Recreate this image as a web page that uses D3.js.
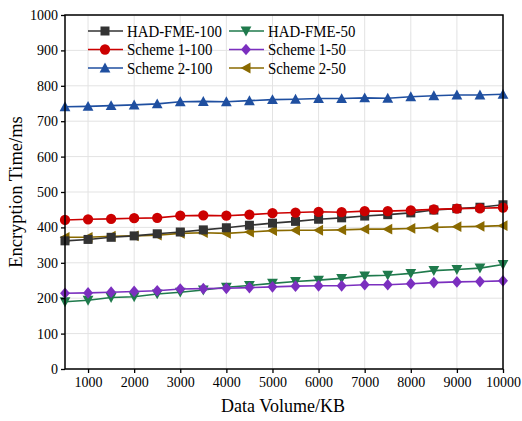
<!DOCTYPE html>
<html>
<head>
<meta charset="utf-8">
<script src="https://cdn.jsdelivr.net/npm/d3@7"></script>
<style>
  body { margin: 0; background: #fff; }
  text { font-family: "Liberation Serif", "Times New Roman", serif; }
</style>
</head>
<body>
<svg width="522" height="421"></svg>
<script>
// data volume in KB
var sizes = [500,1000,1500,2000,2500,3000,3500,4000,4500,5000,5500,6000,6500,7000,7500,8000,8500,9000,9500,10000];

var hadFme100 = [362,366,372,376,382,387,393,399,406,412,417,423,427,432,436,441,449,453,457,464];
var scheme1_100 = [421,423,424,426,427,433,434,433,436,440,442,444,443,446,446,448,451,453,454,456];
var scheme2_100 = [741,742,744,746,749,755,756,755,758,761,762,764,764,766,765,769,772,774,774,776];
var hadFme50 = [190,194,202,204,212,217,223,231,236,242,247,251,256,263,265,270,278,281,285,295];
var scheme1_50 = [214,215,217,219,221,226,227,228,230,232,234,235,235,238,238,241,244,246,247,249];
var scheme2_50 = [372,372,375,376,378,383,385,383,387,391,392,392,393,395,395,397,400,402,403,405];

var xTicks = [1000,2000,3000,4000,5000,6000,7000,8000,9000,10000];
var yTicks = [0,100,200,300,400,500,600,700,800,900,1000];

var series = [
  {name: "HAD-FME-100", values: hadFme100, color: "#333333", sym: "square"},
  {name: "HAD-FME-50", values: hadFme50, color: "#1f7a4c", sym: "down"},
  {name: "Scheme 1-100", values: scheme1_100, color: "#cc0000", sym: "circle"},
  {name: "Scheme 1-50", values: scheme1_50, color: "#7b2fbf", sym: "diamond"},
  {name: "Scheme 2-100", values: scheme2_100, color: "#1f4fa0", sym: "up"},
  {name: "Scheme 2-50", values: scheme2_50, color: "#8a6a00", sym: "left"}
];

var svg = d3.select("svg"),
    margin = {left: 65, right: 19, top: 15, bottom: 52},
    width = 522 - margin.left - margin.right,
    height = 421 - margin.top - margin.bottom;

var x = d3.scaleLinear().domain([500, 10000]).range([0, width]);
var y = d3.scaleLinear().domain([0, 1000]).range([height, 0]);

var g = svg.append("g").attr("transform", "translate(" + margin.left + "," + margin.top + ")");

// grid
g.append("g").selectAll("line").data(xTicks).enter().append("line")
  .attr("x1", function(d) { return x(d); }).attr("x2", function(d) { return x(d); })
  .attr("y1", 0).attr("y2", height)
  .attr("stroke", "#e3e3e3").attr("stroke-width", 1);
g.append("g").selectAll("line").data(yTicks).enter().append("line")
  .attr("y1", function(d) { return y(d); }).attr("y2", function(d) { return y(d); })
  .attr("x1", 0).attr("x2", width)
  .attr("stroke", "#e3e3e3").attr("stroke-width", 1);

function markerPath(sym, s) {
  switch (sym) {
    case "square": return "M" + -s + "," + -s + "H" + s + "V" + s + "H" + -s + "Z";
    case "circle": return d3.symbol(d3.symbolCircle, Math.PI * s * s * 1.3)();
    case "diamond": return "M0," + (-s * 1.3) + "L" + (s * 1.1) + ",0L0," + (s * 1.3) + "L" + (-s * 1.1) + ",0Z";
    case "up": return "M0," + (-s * 1.2) + "L" + (s * 1.2) + "," + s + "L" + (-s * 1.2) + "," + s + "Z";
    case "down": return "M0," + (s * 1.2) + "L" + (s * 1.2) + "," + -s + "L" + (-s * 1.2) + "," + -s + "Z";
    case "left": return "M" + (-s * 1.2) + ",0L" + s + "," + (-s * 1.2) + "L" + s + "," + (s * 1.2) + "Z";
  }
}

var line = d3.line()
  .x(function(d, i) { return x(sizes[i]); })
  .y(function(d) { return y(d); });

// draw order: lower series first
var drawOrder = [1, 3, 5, 0, 2, 4];
drawOrder.forEach(function(k) {
  var s = series[k];
  var sg = g.append("g");
  sg.append("path").datum(s.values)
    .attr("fill", "none").attr("stroke", s.color).attr("stroke-width", 1.6)
    .attr("d", line);
  sg.selectAll("path.m").data(s.values).enter().append("path")
    .attr("class", "m")
    .attr("transform", function(d, i) { return "translate(" + x(sizes[i]) + "," + y(d) + ")"; })
    .attr("d", markerPath(s.sym, 4.5))
    .attr("fill", s.color);
});

// frame
g.append("rect").attr("width", width).attr("height", height)
  .attr("fill", "none").attr("stroke", "#000").attr("stroke-width", 1.5);

var xAxis = g.append("g").attr("transform", "translate(0," + height + ")")
  .call(d3.axisBottom(x).tickValues(xTicks).tickSize(4).tickPadding(4).tickFormat(d3.format("d")));
var yAxis = g.append("g")
  .call(d3.axisLeft(y).tickValues(yTicks).tickSize(4).tickPadding(3).tickFormat(d3.format("d")));
[xAxis, yAxis].forEach(function(a) {
  a.select(".domain").remove();
  a.selectAll("line").attr("stroke", "#000").attr("stroke-width", 1.3);
  a.selectAll("text").attr("font-size", 14).attr("fill", "#000")
    .attr("font-family", "'Liberation Serif', 'Times New Roman', serif");
});

svg.append("text")
  .attr("x", margin.left + width / 2 - 1).attr("y", 412)
  .attr("text-anchor", "middle").attr("font-size", 18)
  .text("Data Volume/KB");
svg.append("text")
  .attr("transform", "translate(22," + (margin.top + height / 2) + ") rotate(-90)")
  .attr("text-anchor", "middle").attr("font-size", 18.5)
  .text("Encryption Time/ms");

// legend
var legend = svg.append("g");
series.forEach(function(s, i) {
  var col = i % 2, row = Math.floor(i / 2);
  var lx = 88 + col * 141, ly = 31 + row * 18.5;
  var lg = legend.append("g").attr("transform", "translate(" + lx + "," + ly + ")");
  lg.append("line").attr("x1", 0).attr("x2", 35).attr("y1", 0).attr("y2", 0)
    .attr("stroke", s.color).attr("stroke-width", 1.6);
  lg.append("path").attr("transform", "translate(17,0)")
    .attr("d", markerPath(s.sym, 4.5)).attr("fill", s.color);
  // text in the source is a bit narrower than the font's natural width
  lg.append("text").attr("transform", "translate(39,5.5) scale(0.9,1)")
    .attr("font-size", 16.5).text(s.name);
});
</script>
</body>
</html>
